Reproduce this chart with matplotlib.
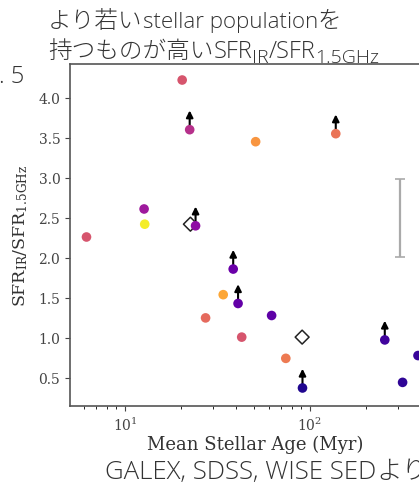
import numpy as np
import matplotlib.pyplot as plt

plt.rcParams['font.family'] = 'DejaVu Serif'
plt.rcParams['mathtext.fontset'] = 'dejavuserif'

# mean stellar age (Myr), SFR ratio, colour value (plasma), lower limit flag
age = [6.2, 12.7, 12.8, 20.4, 22.4, 24.1, 50.9, 138, 38.5, 34.0, 40.9,
       27.3, 62.1, 42.8, 74.1, 91.2, 254, 317, 384]
ratio = [2.26, 2.61, 2.42, 4.22, 3.60, 2.40, 3.45, 3.55, 1.86, 1.54, 1.43,
         1.25, 1.28, 1.01, 0.745, 0.375, 0.975, 0.445, 0.78]
cval = [0.55, 0.34, 0.97, 0.55, 0.42, 0.30, 0.75, 0.65, 0.20, 0.80, 0.18,
        0.62, 0.17, 0.55, 0.67, 0.03, 0.10, 0.06, 0.08]
lower = [0, 0, 0, 0, 1, 1, 0, 1, 1, 0, 1, 0, 0, 0, 0, 1, 1, 0, 0]

# open diamonds (stacked values)
stack_age = [22.6, 90.8]
stack_ratio = [2.42, 1.01]

# typical uncertainty bar
err_x = 306
err_y = 2.5
err_size = 0.49

W, H = 419, 485
fig = plt.figure(figsize=(W/100, H/100), dpi=100)
ax = fig.add_axes([70/W, 78/H, 370/W, 342/H])

ax.scatter(age, ratio, c=cval, cmap='plasma', vmin=0, vmax=1, s=48,
           edgecolors='none', zorder=4)
for x, y, lim in zip(age, ratio, lower):
    if lim:
        ax.annotate('', xy=(x, y + 0.24), xytext=(x, y),
                    arrowprops=dict(arrowstyle='-|>', color='k', lw=1.5,
                                    mutation_scale=10, shrinkA=0, shrinkB=0),
                    zorder=3)
ax.scatter(stack_age, stack_ratio, marker='D', s=50, facecolors='none',
           edgecolors='#222222', linewidths=1.1, zorder=3)
ax.errorbar([err_x], [err_y], yerr=[err_size], fmt='none', ecolor='#aaaaaa',
            elinewidth=1.6, capsize=3.5, capthick=1.2)

ax.set_xscale('log')
ax.set_xlim(5.05, 505)
ax.set_ylim(0.15, 4.42)
ax.set_yticks([0.5, 1.0, 1.5, 2.0, 2.5, 3.0, 3.5, 4.0])
ax.set_xlabel('Mean Stellar Age (Myr)', fontsize=13, color='#333333',
              labelpad=1)
ax.set_ylabel(r'$\mathrm{SFR_{IR}/SFR_{1.5GHz}}$', fontsize=12.5,
              color='#333333', labelpad=6)
ax.tick_params(colors='#444444', labelsize=10, labelcolor='#444444')
for s in ax.spines.values():
    s.set_color('#555555')
    s.set_linewidth(1.2)

# slide text written as runs of (text, font, size, drop in px)
JP = 'Noto Sans CJK JP'
EN = 'Open Sans'
renderer = fig.canvas.get_renderer()


def put_runs(x0, base, runs):
    x = x0
    for s, fam, size, dy in runs:
        t = fig.text(x / W, 1 - (base + dy) / H, s, family=fam, fontsize=size,
                     fontweight='light', color='#333333', va='baseline',
                     ha='left')
        x = t.get_window_extent(renderer).x1


put_runs(48, 28, [('より若い', JP, 17, 0), ('stellar population', EN, 16, 0),
                  ('を', JP, 17, 0)])
put_runs(48, 58, [('持つものが高い', JP, 17, 0), ('SFR', EN, 17, 0),
                  ('IR', EN, 14, 5), ('/SFR', EN, 17, 0),
                  ('1.5GHz', EN, 14, 5)])
put_runs(-1, 83, [('. 5', EN, 17, 0)])
put_runs(105, 479, [('GALEX, SDSS, WISE SED', EN, 18.5, 0),
                    ('より', JP, 18.5, 0)])

fig.savefig('out.png', dpi=100)
